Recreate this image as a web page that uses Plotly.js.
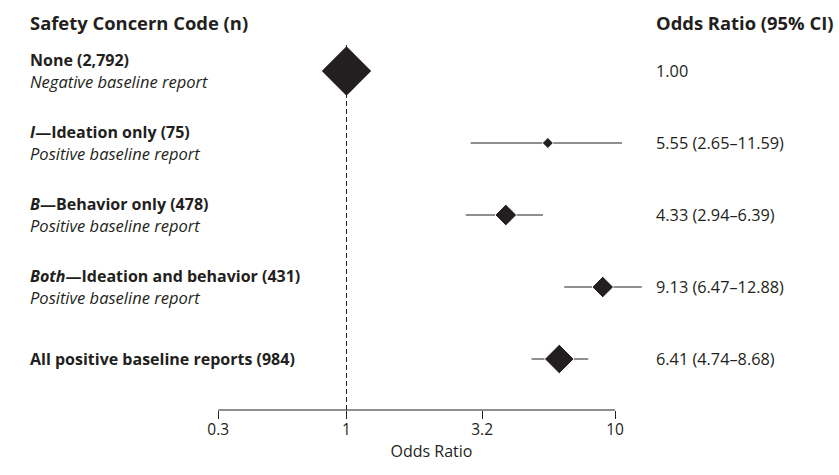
<!DOCTYPE html>
<html>
<head>
<meta charset="utf-8">
<script src="https://cdn.plot.ly/plotly-3.0.1.min.js"></script>
<style>html,body{margin:0;padding:0;background:#fff}#chart{width:839px;height:475px}</style>
</head>
<body>
<div id="chart"></div>
<script>
// ---- data ----
const rowKeys = ["None", "Ideation", "Behavior", "Both", "All"];
const groupLabels = [
  "<b>None (2,792)</b>",
  "<b><i>I</i>—Ideation only (75)</b>",
  "<b><i>B</i>—Behavior only (478)</b>",
  "<b><i>Both</i>—Ideation and behavior (431)</b>",
  "<b>All positive baseline reports (984)</b>"
];
const subLabels = [
  "Negative baseline report",
  "Positive baseline report",
  "Positive baseline report",
  "Positive baseline report",
  ""
];
const orText = ["1.00", "5.55 (2.65–11.59)", "4.33 (2.94–6.39)", "9.13 (6.47–12.88)", "6.41 (4.74–8.68)"];
const oddsRatio = [1.00, 5.62, 3.92, 9.00, 6.20];
const ciLow = [null, 2.90, 2.78, 6.47, 4.89];
const ciHigh = [null, 10.62, 5.39, 12.58, 7.95];
const tickVals = [0.333, 1, 3.2, 10];
const tickText = ["0.3", "1", "3.2", "10"];
const refValue = 1;

// ---- style ----
const ink = "#231f20";
const font = "Open Sans, Noto Sans, sans-serif";
const refMarkerSize = 38;
const sizeScale = 4.8;

const estIdx = [1, 2, 3, 4];
const estTrace = {
  type: "scatter", mode: "markers",
  x: estIdx.map(i => oddsRatio[i]),
  y: estIdx.map(i => i),
  marker: {
    symbol: "diamond", color: ink, opacity: 1,
    size: estIdx.map(i => sizeScale / Math.log10(ciHigh[i] / ciLow[i]))
  },
  error_x: {
    type: "data", symmetric: false,
    array: estIdx.map(i => ciHigh[i] - oddsRatio[i]),
    arrayminus: estIdx.map(i => oddsRatio[i] - ciLow[i]),
    color: ink, thickness: 1.2, width: 0
  },
  hoverinfo: "skip", showlegend: false
};
const refTrace = {
  type: "scatter", mode: "markers",
  x: [oddsRatio[0]], y: [0],
  marker: { symbol: "diamond", color: ink, size: refMarkerSize, opacity: 1 },
  hoverinfo: "skip", showlegend: false
};

const annotations = [];
const mk = (size) => ({ xref: "paper", yref: "y", xanchor: "left", yanchor: "middle", showarrow: false, font: { family: font, size: size, color: ink } });
const leftX = -0.445, rightX = 1.021;
rowKeys.forEach((k, i) => {
  if (subLabels[i]) {
    annotations.push(Object.assign(mk(16), { x: leftX, y: i, text: groupLabels[i], yshift: 11.5 }));
    annotations.push(Object.assign(mk(16.5), { x: leftX, y: i, text: "<i>" + subLabels[i] + "</i>", yshift: -10.5 }));
  } else {
    annotations.push(Object.assign(mk(16), { x: leftX, y: i, text: groupLabels[i] }));
  }
  annotations.push(Object.assign(mk(16.3), { x: rightX, y: i, text: orText[i] }));
});
annotations.push({ xref: "paper", yref: "paper", x: leftX, y: 1.06, xanchor: "left", yanchor: "middle", showarrow: false,
  text: "<b>Safety Concern Code (n)</b>", font: { family: font, size: 18.4, color: ink } });
annotations.push({ xref: "paper", yref: "paper", x: rightX, y: 1.06, xanchor: "left", yanchor: "middle", showarrow: false,
  text: "<b>Odds Ratio (95% CI)</b>", font: { family: font, size: 18.4, color: ink } });

const layout = {
  width: 839, height: 475,
  margin: { l: 218, r: 194, t: 44, b: 65 },
  paper_bgcolor: "#fff", plot_bgcolor: "#fff",
  font: { family: font, size: 14, color: ink },
  xaxis: {
    type: "log", range: [-0.4785, 1.1116],
    tickvals: tickVals, ticktext: tickText,
    ticks: "outside", ticklen: 8, tickwidth: 1, tickcolor: ink,
    ticklabelstandoff: -3,
    showline: false, showgrid: false, zeroline: false,
    tickfont: { family: font, size: 15.5, color: ink },
    title: { text: "Odds Ratio", font: { family: font, size: 16, color: ink }, standoff: 5 },
    automargin: false, fixedrange: true
  },
  yaxis: {
    range: [4.708, -0.375], showgrid: false, zeroline: false, showticklabels: false,
    showline: false, ticks: "", fixedrange: true
  },
  shapes: [
    { type: "line", xref: "x", yref: "paper", x0: refValue, x1: refValue, y0: 0, y1: 1,
      line: { color: ink, width: 1, dash: "5px,3px" }, layer: "below" },
    { type: "line", xref: "x", yref: "paper", x0: tickVals[0], x1: tickVals[tickVals.length - 1], y0: 0, y1: 0,
      line: { color: ink, width: 1.2 } }
  ],
  annotations: annotations
};

Plotly.newPlot("chart", [refTrace, estTrace], layout, { displayModeBar: false, staticPlot: true });
</script>
</body>
</html>
